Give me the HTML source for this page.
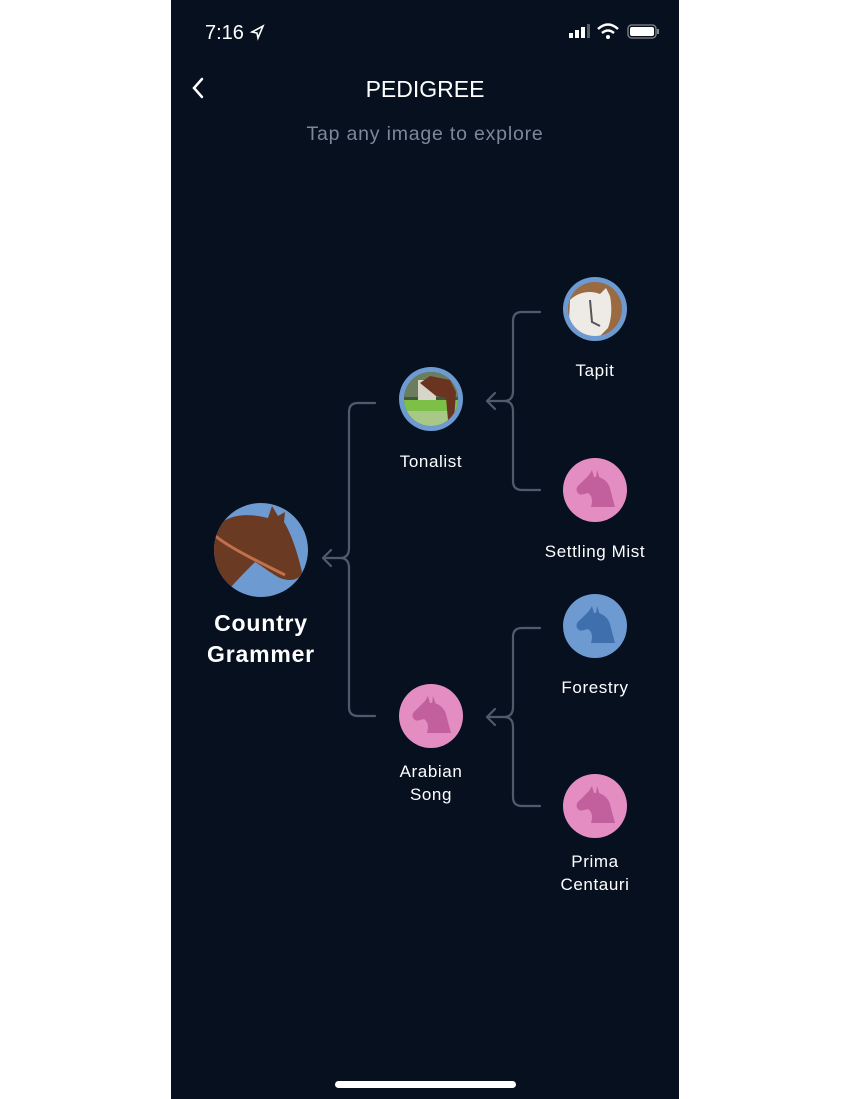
<!DOCTYPE html>
<html><head><meta charset="utf-8"><style>
html,body{margin:0;padding:0;background:#fff;}
body{width:850px;height:1099px;position:relative;overflow:hidden;}
svg{position:absolute;left:0;top:0;}
text{font-family:"Liberation Sans",sans-serif;}
.l{letter-spacing:0.6px;}
</style></head><body>
<svg width="850" height="1099" viewBox="0 0 850 1099">
<defs>
<symbol id="hh" viewBox="-32 -32 64 64">
<path d="M-3,-20 L-1,-13 C6,-14 13,-9 15,-2 L17,6 L20,17 L-4,17 C-2,10 -3,6 -7,3 C-11,4 -15,6 -17,3 C-20,0 -18,-4 -15,-6 C-11,-10 -8,-13 -6,-15 Z" />
<path d="M2,-20 L5,-11 L1,-12 Z"/>
</symbol>
<clipPath id="c1"><circle cx="261" cy="550" r="47"/></clipPath>
<clipPath id="c2"><circle cx="431" cy="399" r="27"/></clipPath>
<clipPath id="c3"><circle cx="595" cy="309" r="27"/></clipPath>
</defs>
<rect x="0" y="0" width="850" height="1099" fill="#ffffff"/>
<rect x="171" y="0" width="508" height="1099" fill="#07101f"/>
<!-- status bar -->
<text x="205" y="39" font-size="20" fill="#fff">7:16</text>
<path d="M252,32 L263,26 L258,38 L257,33 Z" fill="none" stroke="#fff" stroke-width="1.6"/>
<rect x="569" y="33" width="4" height="5" fill="#fff"/><rect x="575" y="30" width="4" height="8" fill="#fff"/><rect x="581" y="27" width="4" height="11" fill="#fff"/><rect x="587" y="24" width="3" height="14" fill="#555d6a"/>
<path d="M598,29 Q608,20 618,29" fill="none" stroke="#fff" stroke-width="2.5"/><path d="M602,33 Q608,28 614,33" fill="none" stroke="#fff" stroke-width="2.5"/><circle cx="608" cy="37" r="2" fill="#fff"/>
<rect x="628" y="25" width="28" height="13" rx="3.5" fill="none" stroke="#888" stroke-width="1.3"/><rect x="630" y="27" width="24" height="9" rx="2" fill="#fff"/><rect x="657" y="29" width="2" height="5" fill="#888"/>
<!-- header -->
<path d="M202,79 L194,88 L202,97" fill="none" stroke="#fff" stroke-width="2.5" stroke-linecap="round"/>
<text x="425" y="97" font-size="23" fill="#fff" text-anchor="middle">PEDIGREE</text>
<text x="425" y="140" font-size="19.5" fill="#7d8798" text-anchor="middle" letter-spacing="0.8">Tap any image to explore</text>
<!-- connectors -->
<g fill="none" stroke="#4d5b6c" stroke-width="2.2" stroke-linecap="round" stroke-linejoin="round">
<path d="M375,403 L358,403 Q349,403 349,412 L349,548 Q349,558 340,558 Q349,558 349,568 L349,707 Q349,716 358,716 L375,716"/>
<path d="M331,550 L323,558 L331,566 M323,558 L340,558"/>
<path d="M540,312 L522,312 Q513,312 513,321 L513,391 Q513,401 504,401 Q513,401 513,411 L513,481 Q513,490 522,490 L540,490"/>
<path d="M495,393 L487,401 L495,409 M487,401 L504,401"/>
<path d="M540,628 L522,628 Q513,628 513,637 L513,707 Q513,717 504,717 Q513,717 513,727 L513,797 Q513,806 522,806 L540,806"/>
<path d="M495,709 L487,717 L495,725 M487,717 L504,717"/>
</g>
<!-- Country Grammer -->
<circle cx="261" cy="550" r="47" fill="#6d9ad0"/>
<g clip-path="url(#c1)">
<path d="M214,530 C225,515 245,512 268,518 L272,506 L278,516 L285,512 L284,522 C292,535 298,555 302,572 C300,580 290,582 280,578 C272,574 262,566 255,562 C245,572 232,585 220,600 L210,600 Z" fill="#6b3a22"/>
<path d="M214,535 C230,548 255,560 285,575" fill="none" stroke="#c0704a" stroke-width="3"/>
</g>
<text x="261" y="631" font-size="23" font-weight="bold" fill="#fff" text-anchor="middle" letter-spacing="0.8">Country</text>
<text x="261" y="662" font-size="23" font-weight="bold" fill="#fff" text-anchor="middle" letter-spacing="0.8">Grammer</text>
<!-- Tonalist -->
<circle cx="431" cy="399" r="32" fill="#6d9ad0"/>
<circle cx="431" cy="399" r="27" fill="#3e5a38"/>
<g clip-path="url(#c2)">
<rect x="404" y="372" width="54" height="25" fill="#6c7d5e"/>
<rect x="418" y="380" width="18" height="20" fill="#d8d6c8"/>
<rect x="404" y="400" width="54" height="12" fill="#7cc048"/>
<rect x="404" y="411" width="54" height="16" fill="#a8c888"/>
<path d="M420,383 L430,376 L450,380 L456,392 L454,420 L448,420 L446,398 L436,396 Z" fill="#6a3420"/>
</g>
<text class="l" x="431" y="467" font-size="17" fill="#fff" text-anchor="middle">Tonalist</text>
<!-- Tapit -->
<circle cx="595" cy="309" r="32" fill="#6d9ad0"/>
<circle cx="595" cy="309" r="27" fill="#9a6a40"/>
<g clip-path="url(#c3)">
<path d="M570,300 C578,292 590,290 600,294 L606,288 L610,296 C612,306 612,318 608,328 L596,340 L568,340 Z" fill="#eeeae6"/>
<path d="M590,300 L592,322 L600,326" fill="none" stroke="#555" stroke-width="2"/>
</g>
<text class="l" x="595" y="376" font-size="17" fill="#fff" text-anchor="middle">Tapit</text>
<!-- Settling Mist -->
<circle cx="595" cy="490" r="32" fill="#e38dc3"/>
<use href="#hh" x="563" y="458" width="64" height="64" fill="#c2609e"/>
<text class="l" x="595" y="557" font-size="17" fill="#fff" text-anchor="middle">Settling Mist</text>
<!-- Forestry -->
<circle cx="595" cy="626" r="32" fill="#6d9ad0"/>
<use href="#hh" x="563" y="594" width="64" height="64" fill="#3f6fac"/>
<text class="l" x="595" y="693" font-size="17" fill="#fff" text-anchor="middle">Forestry</text>
<!-- Arabian Song -->
<circle cx="431" cy="716" r="32" fill="#e38dc3"/>
<use href="#hh" x="399" y="684" width="64" height="64" fill="#c2609e"/>
<text class="l" x="431" y="777" font-size="17" fill="#fff" text-anchor="middle">Arabian</text>
<text class="l" x="431" y="800" font-size="17" fill="#fff" text-anchor="middle">Song</text>
<!-- Prima Centauri -->
<circle cx="595" cy="806" r="32" fill="#e38dc3"/>
<use href="#hh" x="563" y="774" width="64" height="64" fill="#c2609e"/>
<text class="l" x="595" y="867" font-size="17" fill="#fff" text-anchor="middle">Prima</text>
<text class="l" x="595" y="890" font-size="17" fill="#fff" text-anchor="middle">Centauri</text>
<!-- home bar -->
<rect x="335" y="1081" width="181" height="7" rx="3.5" fill="#fff"/>
</svg>
</body></html>
